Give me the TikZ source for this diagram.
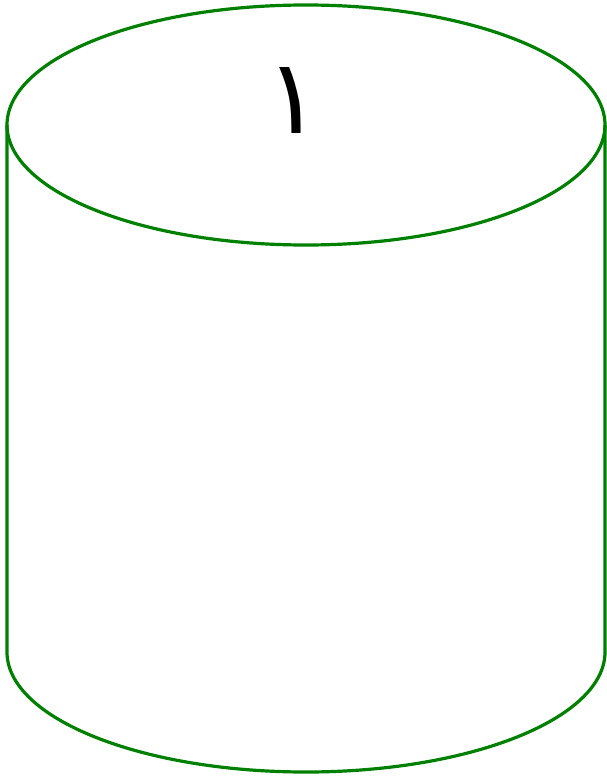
\documentclass[tikz,border=0pt]{standalone}
\usepackage{fontspec}
\newfontfamily\arabicfont[Script=Arabic]{DejaVu Sans}
\TeXXeTstate=1
\definecolor{drumgreen}{HTML}{008000}
\begin{document}
\begin{tikzpicture}[x=1pt, y=-1pt,
    drumline/.style={draw=drumgreen, line width=3.2pt},
    digit/.style={font=\fontsize{104}{106}\selectfont\arabicfont, inner sep=0pt, anchor=center}
  ]
  \useasboundingbox (0,0) rectangle (606,776);

  % cylinder body
  \draw[drumline] (7,125) -- (7,652) arc[start angle=180, end angle=0, x radius=299, y radius=120] -- (605,125);
  % top cap
  \draw[drumline] (306,125) ellipse[x radius=299, y radius=120];

  % label
  \node[digit] (label) at (293,100) {\beginR ١\endR};
\end{tikzpicture}
\end{document}
